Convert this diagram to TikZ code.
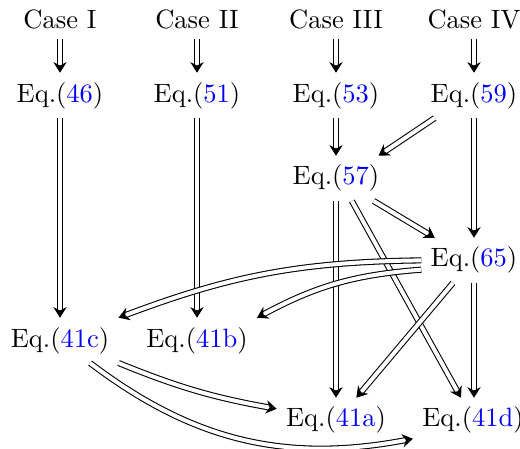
\documentclass[tikz,border=0pt]{standalone}
\usetikzlibrary{arrows.meta}
\begin{document}
\begin{tikzpicture}[x=0.377pt,y=-0.377pt,
  lbl/.style={anchor=base, inner sep=3.33pt},
  imp/.style={double, double distance=1.5pt, line width=0.4pt, -{Stealth[length=4pt,width=5pt]}},
]
\useasboundingbox (0,0) rectangle (520,449);
\newcommand{\eqref}[1]{Eq.(\textcolor{blue}{#1})}
% row 0
\node[lbl] (c1) at (60,29)  {Case I};
\node[lbl] (c2) at (197,29) {Case II};
\node[lbl] (c3) at (336,29) {Case III};
\node[lbl] (c4) at (474,29) {Case IV};
% row 1
\node[lbl] (n46) at (60,102)  {\eqref{46}};
\node[lbl] (n51) at (197,102) {\eqref{51}};
\node[lbl] (n53) at (336,102) {\eqref{53}};
\node[lbl] (n59) at (474,102) {\eqref{59}};
% row 2
\node[lbl] (n57) at (336,185) {\eqref{57}};
% row 3
\node[lbl] (n65) at (474,267) {\eqref{65}};
% row 4
\node[lbl] (n41c) at (60,347)  {\eqref{41c}};
\node[lbl] (n41b) at (197,347) {\eqref{41b}};
% row 5
\node[lbl] (n41a) at (336,427) {\eqref{41a}};
\node[lbl] (n41d) at (473,427) {\eqref{41d}};

\draw[imp] (c1) -- (n46);
\draw[imp] (c2) -- (n51);
\draw[imp] (c3) -- (n53);
\draw[imp] (c4) -- (n59);
\draw[imp] (n46) -- (n41c);
\draw[imp] (n51) -- (n41b);
\draw[imp] (n53) -- (n57);
\draw[imp] (n59.210) -- (n57.28);
\draw[imp] (n59) -- (n65);
\draw[imp] (n57.329) -- (n65.150);
\draw[imp] (n57) -- (n41a);
\draw[imp] (n57.305) -- (n41d.118);
\draw[imp] (n65.west) to[bend right=10] (n41c.north east);
\draw[imp] (n65.190) to[bend right=12] (n41b.north east);
\draw[imp] (n65.227) -- (n41a.48);
\draw[imp] (n65.south) -- (n65.south |- n41d.north);
\draw[imp] (n41c.south east) to[bend right=6] (n41a.169);
\draw[imp] (n41c.323) to[bend right=24] (n41d.197);
\end{tikzpicture}
\end{document}
